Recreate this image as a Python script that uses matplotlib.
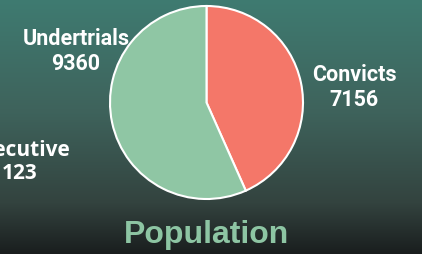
import numpy as np
import matplotlib.pyplot as plt
from matplotlib.colors import LinearSegmentedColormap

# Data
categories = ["Convicts", "Undertrials", "Executive"]
values = [7156, 9360, 123]
colors = ["#F47769", "#8FC6A4"]
title = "Population"

W, H = 422, 255
fig = plt.figure(figsize=(W / 100, H / 100), dpi=100)
ax = fig.add_axes([0, 0, 1, 1])

# background gradient (top teal -> dark bottom)
bg = LinearSegmentedColormap.from_list(
    "bg", [(0.0, "#3F7B71"), (0.45, "#3E625B"), (0.8, "#33433F"), (1.0, "#1A1E1E")])
grad = np.linspace(1, 0, 256).reshape(-1, 1)
ax.imshow(grad, cmap=bg, aspect="auto", extent=[0, W, 0, H], origin="lower",
          vmin=0, vmax=1, zorder=0)

# pie: only the two big slices are drawn
ax.pie(values[:2], colors=colors, startangle=90, counterclock=False,
       center=(206.5, H - 103.5), radius=96.5, frame=True,
       wedgeprops=dict(edgecolor="white", linewidth=1.5))

ax.set_xlim(0, W)
ax.set_ylim(0, H)
ax.set_aspect("auto")
ax.axis("off")

# multi-line text: baseline refers to the last line
lab_font = ["Roboto", "DejaVu Sans"]
ax.text(76, H - 70, f"{categories[1]}\n{values[1]}", ha="center", va="baseline",
        color="white", fontsize=15.5, fontweight="bold", family=lab_font,
        linespacing=1.2)
ax.text(354, H - 106, f"{categories[0]}\n{values[0]}", ha="center", va="baseline",
        color="white", fontsize=15.5, fontweight="bold", family=lab_font,
        linespacing=1.2)
ax.text(20, H - 179, f"{categories[2]}\n{values[2]}", ha="center", va="baseline",
        color="white", fontsize=15, fontweight="bold", family=["Open Sans", "DejaVu Sans"],
        linespacing=1.1)

ax.text(207, H - 243, title, ha="center", va="baseline", color="#8DC5A3",
        fontsize=23, fontweight="bold", family=["Liberation Sans", "DejaVu Sans"])

fig.savefig("out.png", dpi=100)
